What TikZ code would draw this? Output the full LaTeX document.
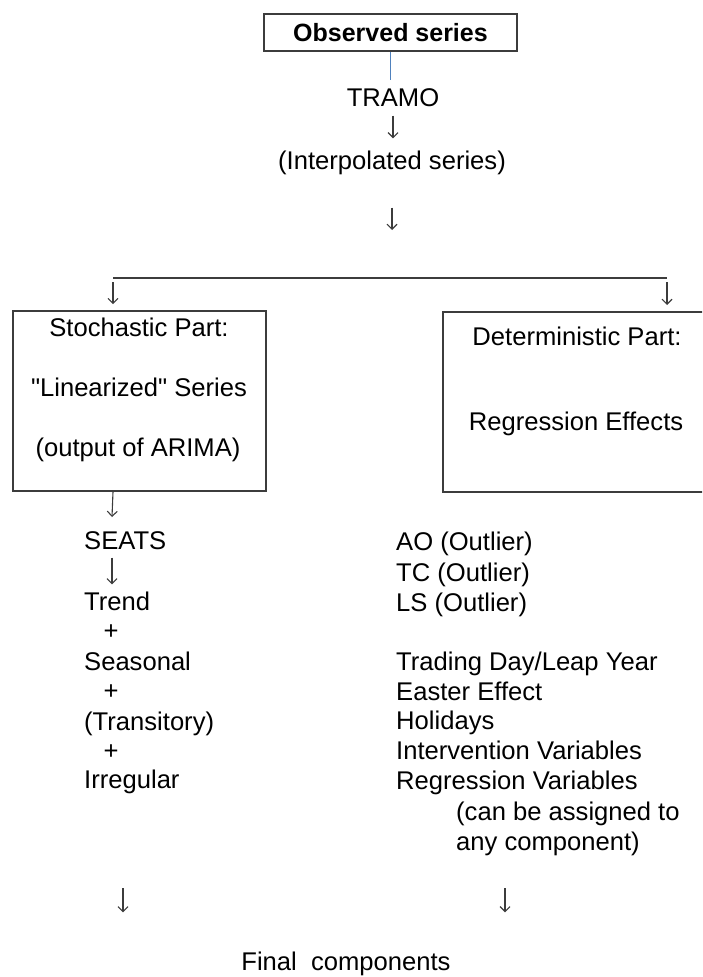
\documentclass[tikz,border=0pt]{standalone}
\usepackage{fontspec}
\setmainfont{Liberation Sans}
\newfontfamily\rawfont{Liberation Sans}
\usetikzlibrary{arrows.meta,calc}
\definecolor{lineblue}{RGB}{79,129,189}
\definecolor{framegray}{RGB}{60,60,60}
\definecolor{arrowgray}{RGB}{60,60,60}
\begin{document}
\begin{tikzpicture}[x=1pt,y=-1pt,
  txt/.style={font=\fontsize{25.6}{30}\selectfont, inner sep=0pt, text height=18pt, text depth=5pt},
  lft/.style={txt, anchor=west},
  frame/.style={draw=framegray, line width=1.6pt, inner sep=0pt},
  arr/.style={draw=arrowgray, line width=1.1pt, -{Straight Barb[length=5pt,width=10pt,line width=1.1pt]}},
  plain/.style={draw=framegray, line width=1.4pt}
]
\useasboundingbox (0,0) rectangle (702,977);
\clip (0,0) rectangle (702,977);

% top
\node[frame, minimum width=253pt, minimum height=37pt, font=\fontsize{25}{30}\selectfont\bfseries] (obs) at (390.5,32.5) {Observed series};
\node[txt] (tramo) at (393,100) {TRAMO};
\node[txt] (interp) at (392,163) {(Interpolated series)};
\coordinate (mid) at (392,230);
\draw[draw=lineblue, line width=1.6pt, shorten >=8pt] (obs.south) -- (obs.south |- tramo.north);
\draw[arr, shorten <=4pt, shorten >=13pt] (tramo.south) -- (tramo.south |- interp.north);
\draw[arr, shorten <=33pt] (interp.south) -- (interp.south |- mid);

% split
\coordinate (splitL) at (113,278);
\coordinate (splitR) at (667,278);
\draw[plain] (splitL) -- (splitR);

% boxes
\node[frame, minimum width=253pt, minimum height=180pt] (stoch) at (139.5,401) {};
\node[frame, minimum width=280pt, minimum height=180pt, anchor=north west] (determ) at (442,311) {};
\draw[arr, shorten <=4pt, shorten >=6pt] (splitL) -- (splitL |- stoch.north);
\draw[arr, shorten <=4pt, shorten >=6pt] (splitR) -- (splitR |- determ.north);

\node[txt] (s1) at (139,330) {Stochastic Part:};
\node[txt] (s2) at (139,390) {{\rawfont "}Linearized{\rawfont "} Series};
\node[txt] (s3) at (138,450) {(output of ARIMA)};
\node[txt] (d1) at (577,339) {Deterministic Part:};
\node[txt] (d2) at (576,424) {Regression Effects};

% left column
\node[lft] (seats) at (84,543) {SEATS};
\node[lft] (trend) at (84,604) {Trend};
\node[txt] (p1) at (111,633) {+};
\node[lft] (seas) at (84,664) {Seasonal};
\node[txt] (p2) at (111,693) {+};
\node[lft] (trans) at (84,724) {(Transitory)};
\node[txt] (p3) at (111,753) {+};
\node[lft] (irr) at (84,782) {Irregular};
\coordinate (colL) at (112,517);
\draw[arr] (splitL |- stoch.south) -- (colL);
\draw[arr, shorten <=3pt, shorten >=8pt] (colL |- seats.south) -- (colL |- trend.north);

% right column
\node[lft] (ao) at (396,544) {AO (Outlier)};
\node[lft] (tc) at (396,575) {TC (Outlier)};
\node[lft] (ls) at (396,605) {LS (Outlier)};
\node[lft] (td) at (396,664) {Trading Day/Leap Year};
\node[lft] (ee) at (396,694) {Easter Effect};
\node[lft] (hol) at (396,723) {Holidays};
\node[lft] (iv) at (396,753) {Intervention Variables};
\node[lft] (rv) at (396,783) {Regression Variables};
\node[lft] (rv2) at (456,814) {(can be assigned to};
\node[lft] (rv3) at (456,844) {any component)};

% bottom
\node[txt] (final) at (346,964) {Final~~components};
\coordinate (botL) at (123,888);
\coordinate (botR) at (505,888);
\draw[arr, shorten >=40pt] (botL) -- (botL |- final.north);
\draw[arr, shorten >=40pt] (botR) -- (botR |- final.north);
\end{tikzpicture}
\end{document}
